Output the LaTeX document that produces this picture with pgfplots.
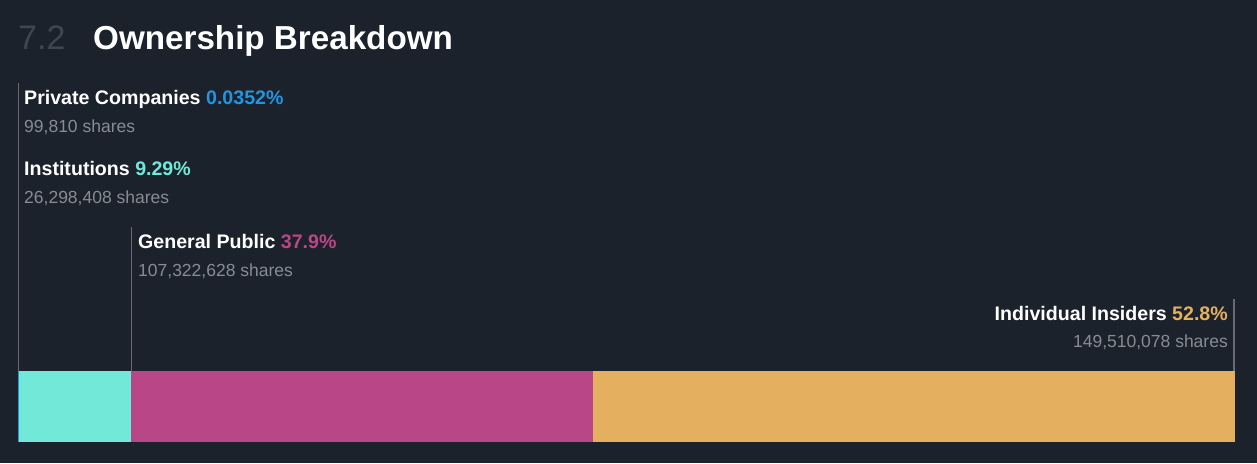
\documentclass[border=0pt]{standalone}
\usepackage{pgfplots}
\pgfplotsset{compat=1.18}
\usepackage{fontspec}
\setmainfont{Liberation Sans}
\usetikzlibrary{backgrounds}

\definecolor{bg}{HTML}{1B222C}
\definecolor{pcblue}{HTML}{2394DF}
\definecolor{inst}{HTML}{72E8D8}
\definecolor{pub}{HTML}{B94687}
\definecolor{insd}{HTML}{E5AF60}
\definecolor{sharegrey}{HTML}{878C93}
\definecolor{linegrey}{HTML}{666B73}
\definecolor{numgrey}{HTML}{40464F}

\begin{document}
\begin{tikzpicture}[background rectangle/.style={fill=bg}, show background rectangle, inner frame sep=0pt]
\begin{axis}[
  scale only axis,
  width=1257pt, height=463pt,
  % 1 pixel of the reference = 1pt; the bar runs from px 18 to px 1235
  xmin=-1.4794, xmax=101.833,
  ymin=0, ymax=463,
  hide axis,
  clip=false,
  xbar stacked,
  bar width=71,
]
% ownership shares in percent
\addplot[fill=pcblue, draw=none] coordinates {(0.0352,56.5)};
\addplot[fill=inst, draw=none] coordinates {(9.29,56.5)};
\addplot[fill=pub, draw=none] coordinates {(37.9,56.5)};
\addplot[fill=insd, draw=none] coordinates {(52.8,56.5)};
\end{axis}

\begin{scope}[shift={(current axis.north west)}, x=1pt, y=-1pt]
\path (0,0) rectangle (1257,463);

% title
\node[anchor=base west, inner sep=0, text=numgrey, font=\fontsize{34}{40}\selectfont] at (18,50) {7.2};
\node[anchor=base west, inner sep=0, text=white, font=\bfseries\fontsize{33.2}{40}\selectfont] at (93,50) {Ownership Breakdown};

% leader lines
\draw[linegrey, line width=1.6pt] (18.5,83) -- (18.5,371);
\draw[linegrey, line width=1.6pt] (131.5,227) -- (131.5,371);
\draw[linegrey, line width=1.6pt] (1234,299) -- (1234,371);

% labels
\tikzset{lab/.style={inner sep=0, text=white, font=\bfseries\fontsize{19.6}{24}\selectfont},
         shr/.style={inner sep=0, text=sharegrey, font=\fontsize{17.5}{21}\selectfont}}
\node[lab, anchor=base west] at (24,105) {Private Companies \textcolor{pcblue}{0.0352\%}};
\node[shr, anchor=base west] at (24,132.5) {99,810 shares};
\node[lab, anchor=base west] at (24,176) {Institutions \textcolor{inst}{9.29\%}};
\node[shr, anchor=base west] at (24,203.5) {26,298,408 shares};
\node[lab, anchor=base west] at (138,249) {General Public \textcolor{pub}{37.9\%}};
\node[shr, anchor=base west] at (138,276.5) {107,322,628 shares};
\node[lab, anchor=base east] at (1228,320.5) {Individual Insiders \textcolor{insd}{52.8\%}};
\node[shr, anchor=base east] at (1228,348) {149,510,078 shares};
\end{scope}
\end{tikzpicture}
\end{document}
